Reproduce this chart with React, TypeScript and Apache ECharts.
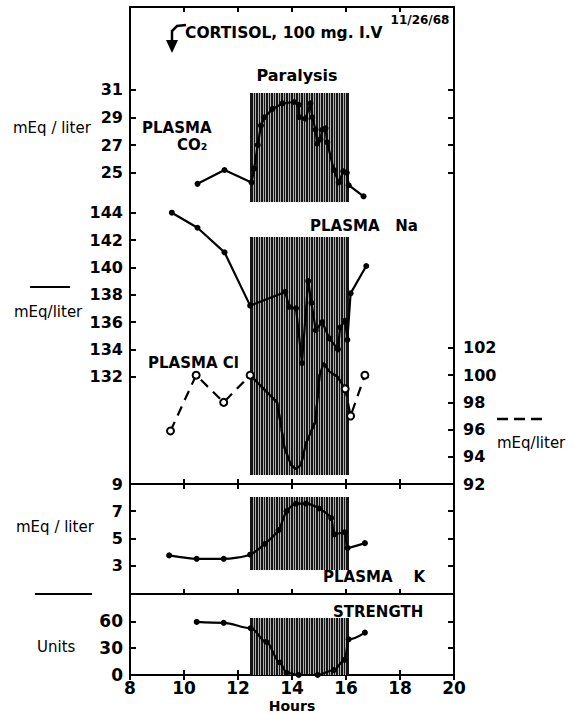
import React, { useEffect, useRef } from "react";
import * as echarts from "echarts";

// ---- axis tick values ----
const hourTicks = [8, 10, 12, 14, 16, 18, 20];
const co2Ticks = [25, 27, 29, 31];
const naTicks = [132, 134, 136, 138, 140, 142, 144];
const clTicks = [92, 94, 96, 98, 100, 102];
const kTicks = [3, 5, 7, 9];
const strengthTicks = [0, 30, 60];

// ---- series data (hours, values) ----
const co2Hours = [10.5, 11.5, 12.5, 12.6, 12.73, 12.85, 12.98, 13.28, 13.65, 14.08, 14.25, 14.27, 14.5, 14.68, 14.75, 14.87, 14.93, 15.05, 15.12, 15.24, 15.3, 15.55, 15.73, 15.9, 16.03, 16.1, 16.65];
const co2Values = [24.2, 25.2, 24.3, 25.3, 27.0, 28.4, 29.0, 29.6, 30.0, 30.1, 29.9, 29.0, 28.9, 30.0, 29.0, 28.1, 27.1, 27.4, 28.1, 28.2, 27.2, 25.2, 24.3, 25.1, 25.0, 24.1, 23.3];

const naHours = [9.55, 10.5, 11.5, 12.45, 13.75, 13.9, 14.15, 14.37, 14.6, 14.72, 14.88, 15.12, 15.38, 15.7, 15.78, 15.97, 16.05, 16.17, 16.75];
const naValues = [144.0, 142.9, 141.1, 137.2, 138.2, 137.1, 137.0, 133.0, 139.0, 137.4, 135.4, 136.0, 134.8, 134.0, 135.6, 136.1, 134.7, 138.1, 140.1];

const clHours = [9.5, 10.45, 11.47, 12.45, 13.45, 13.72, 13.96, 14.15, 14.33, 14.52, 14.87, 15.02, 15.18, 15.36, 15.68, 15.97, 16.17, 16.7];
const clValues = [95.9, 100.0, 98.0, 100.0, 98.0, 94.7, 93.4, 93.1, 93.4, 95.0, 96.6, 100.0, 100.9, 100.3, 99.9, 99.0, 97.0, 100.0];

const kHours = [9.45, 10.47, 11.47, 12.45, 13.0, 13.5, 13.8, 14.15, 14.52, 15.0, 15.45, 15.57, 15.95, 16.06, 16.7];
const kValues = [3.75, 3.5, 3.5, 3.8, 4.6, 5.6, 7.0, 7.55, 7.55, 7.2, 6.5, 5.3, 5.45, 4.3, 4.65];

const strengthHours = [10.47, 11.47, 12.47, 13.05, 13.55, 13.8, 14.25, 14.95, 15.55, 15.95, 16.1, 16.7];
const strengthValues = [59.5, 58.5, 52.5, 37, 14, 2.5, 0, 0, 5.5, 17, 40, 47.5];

// ---- paralysis (hatched) period and panel extents ----
const paralysisHours = [12.45, 16.1];
const hatchCO2 = [30.75, 22.9];
const hatchNa = [142.2, 124.8];
const hatchK = [8.05, 2.7];
const hatchStrength = [64, 0];

const zip = (xs: number[], ys: number[]) => xs.map((x, i) => [x, ys[i]]);

const FONT = "DejaVu Sans";

function hatchSeries(xAxisIndex: number, yAxisIndex: number, yr: number[]) {
  return {
    type: "custom",
    xAxisIndex,
    yAxisIndex,
    z: 1,
    silent: true,
    encode: { x: [0, 1], y: [2, 3] },
    data: [[paralysisHours[0], paralysisHours[1], yr[0], yr[1]]],
    renderItem: (_params: any, api: any) => {
      const p0 = api.coord([api.value(0), api.value(2)]);
      const p1 = api.coord([api.value(1), api.value(3)]);
      const x0 = Math.round(p0[0]);
      const x1 = Math.round(p1[0]);
      const y0 = Math.round(p0[1]);
      const y1 = Math.round(p1[1]);
      const children: any[] = [
        { type: "rect", shape: { x: x0, y: y0, width: x1 - x0, height: y1 - y0 }, style: { fill: "#151515" } },
      ];
      for (let i = 1; ; i++) {
        const x = x0 + Math.round(i * 2.5) + 0.5;
        if (x >= x1 - 1) break;
        children.push({ type: "line", shape: { x1: x, y1: y0, x2: x, y2: y1 }, style: { stroke: "#d8d8d8", lineWidth: 0.8 } });
      }
      return { type: "group", children };
    },
  };
}

const lineBase = {
  type: "line",
  z: 5,
  symbol: "circle",
  symbolSize: 6,
  itemStyle: { color: "#000" },
  lineStyle: { color: "#000", width: 2.2 },
  clip: false,
};

function xAx(gridIndex: number, position: "top" | "bottom", labels: boolean) {
  return {
    type: "value",
    gridIndex,
    position,
    min: 8,
    max: 20,
    interval: 2,
    axisLine: { show: false },
    splitLine: { show: false },
    axisTick: { show: true, inside: true, length: 5, lineStyle: { color: "#000", width: 2 } },
    axisLabel: labels
      ? { show: true, color: "#000", fontFamily: FONT, fontWeight: "bold", fontSize: 17, margin: 4, customValues: hourTicks }
      : { show: false },
  };
}

function yAx(
  gridIndex: number,
  position: "left" | "right",
  min: number,
  max: number,
  ticks: number[],
  labels: number[] | null,
  fontSize = 16
) {
  return {
    type: "value",
    gridIndex,
    position,
    min,
    max,
    axisLine: { show: false },
    splitLine: { show: false },
    axisTick: { show: true, inside: true, length: 6, customValues: ticks, lineStyle: { color: "#000", width: 2 } },
    axisLabel: labels
      ? { show: true, customValues: labels, color: "#000", fontFamily: FONT, fontWeight: "bold", fontSize, margin: position === "left" ? 7 : 9 }
      : { show: false },
  };
}

function txt(x: number, y: number, text: string, size = 15, weight = "bold", align = "left") {
  return {
    type: "text",
    x,
    y,
    z: 20,
    style: { text, fill: "#000", fontFamily: FONT, fontSize: size, fontWeight: weight, align, verticalAlign: "middle" },
  };
}

export default function App() {
  const ref = useRef<HTMLDivElement>(null);
  useEffect(() => {
    if (!ref.current) return;
    const chart = echarts.init(ref.current, null, { renderer: "svg" });
    const gridBase = { show: true, borderColor: "#000", borderWidth: 2, backgroundColor: "transparent", containLabel: false, outerBoundsMode: "none" };
    const clInside = zip(clHours, clValues).filter((p) => p[0] >= paralysisHours[0] && p[0] <= paralysisHours[1]);
    const clData = zip(clHours, clValues).map((p) => ({
      value: p,
      symbol: p[0] > paralysisHours[0] + 0.1 && p[0] < paralysisHours[1] - 0.2 ? "none" : "emptyCircle",
    }));
    const option: any = {
      animation: false,
      backgroundColor: "#fff",
      grid: [
        { ...gridBase, left: 130, width: 324, top: 7, height: 477 },
        { ...gridBase, left: 130, width: 324, top: 484, height: 110 },
        { ...gridBase, left: 130, width: 324, top: 594, height: 81 },
      ],
      xAxis: [xAx(0, "bottom", false), xAx(0, "top", false), xAx(1, "bottom", false), xAx(1, "top", false), xAx(2, "bottom", true), xAx(2, "top", false)],
      yAxis: [
        yAx(0, "left", 2.56, 36.95, co2Ticks, co2Ticks),
        yAx(0, "left", 124.15, 159.05, naTicks, naTicks),
        yAx(0, "right", 92, 127.07, clTicks, clTicks),
        yAx(0, "right", 2.56, 36.95, co2Ticks, null),
        yAx(1, "left", 0.91, 9, kTicks.filter((v) => v < 9), kTicks),
        yAx(1, "right", 0.91, 9, kTicks.filter((v) => v < 9), null),
        yAx(2, "left", 0, 90.8, strengthTicks.filter((v) => v > 0), strengthTicks, 17),
        yAx(2, "right", 0, 90.8, strengthTicks.filter((v) => v > 0), null),
      ],
      series: [
        hatchSeries(0, 0, hatchCO2),
        hatchSeries(0, 1, hatchNa),
        hatchSeries(2, 4, hatchK),
        hatchSeries(4, 6, hatchStrength),
        { ...lineBase, name: "CO2", xAxisIndex: 0, yAxisIndex: 0, data: zip(co2Hours, co2Values) },
        { ...lineBase, name: "Na", xAxisIndex: 0, yAxisIndex: 1, data: zip(naHours, naValues) },
        {
          ...lineBase,
          name: "Cl",
          xAxisIndex: 0,
          yAxisIndex: 2,
          z: 6,
          symbol: "emptyCircle",
          symbolSize: 7,
          itemStyle: { color: "#000", borderWidth: 1.8 },
          lineStyle: { color: "#000", width: 2.2, type: [10, 7] },
          data: clData,
        },
        { ...lineBase, name: "Cl solid", xAxisIndex: 0, yAxisIndex: 2, symbol: "none", z: 4, data: clInside },
        { ...lineBase, name: "K", xAxisIndex: 2, yAxisIndex: 4, smooth: 0.25, data: zip(kHours, kValues) },
        { ...lineBase, name: "Strength", xAxisIndex: 4, yAxisIndex: 6, smooth: 0.35, smoothMonotone: "x", data: zip(strengthHours, strengthValues) },
      ],
      graphic: [
        { type: "polyline", z: 20, shape: { points: [[186, 25], [177, 26], [172, 31], [172, 44]] }, style: { stroke: "#000", lineWidth: 2.5, fill: "none" } },
        { type: "polygon", z: 20, shape: { points: [[166, 40], [178, 40], [172, 53]] }, style: { fill: "#000" } },
        txt(185, 33, "CORTISOL, 100 mg. I.V", 15.5, "bold"),
        txt(420, 20, "11/26/68", 12, "bold", "center"),
        txt(297, 75, "Paralysis", 16, "bold", "center"),
        txt(13, 128, "mEq / liter", 15, "normal"),
        txt(142, 128, "PLASMA", 15, "bold"),
        txt(177, 145, "CO₂", 15, "bold"),
        txt(310, 226, "PLASMA   Na", 15, "bold"),
        { type: "line", z: 20, shape: { x1: 30, y1: 287, x2: 70, y2: 287 }, style: { stroke: "#000", lineWidth: 2.2 } },
        txt(14, 312, "mEq/liter", 15, "normal"),
        txt(148, 363, "PLASMA Cl", 15, "bold"),
        { type: "line", z: 20, shape: { x1: 497, y1: 419, x2: 543, y2: 419 }, style: { stroke: "#000", lineWidth: 2.5, lineDash: [11, 6] } },
        txt(497, 443, "mEq/liter", 15, "normal"),
        txt(16, 527, "mEq / liter", 15, "normal"),
        txt(323, 577, "PLASMA    K", 15, "bold"),
        { type: "line", z: 20, shape: { x1: 35, y1: 594, x2: 92, y2: 594 }, style: { stroke: "#000", lineWidth: 2.2 } },
        txt(333, 612, "STRENGTH", 15, "bold"),
        txt(37, 647, "Units", 15, "normal"),
        txt(292, 706, "Hours", 14, "bold", "center"),
      ],
    };
    chart.setOption(option);
    return () => chart.dispose();
  }, []);
  return <div ref={ref} style={{ position: "fixed", left: 0, top: 0, width: 578, height: 714, background: "#fff" }} />;
}
